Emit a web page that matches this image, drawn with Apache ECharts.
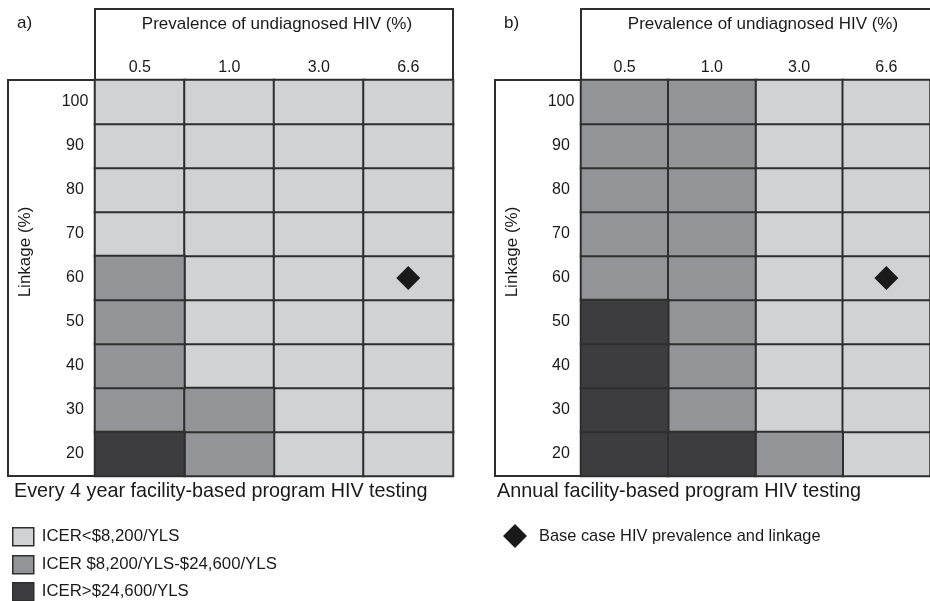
<!DOCTYPE html>
<html>
<head>
<meta charset="utf-8">
<script src="https://cdn.jsdelivr.net/npm/echarts@6/dist/echarts.min.js"></script>
<style>
html,body{margin:0;padding:0;background:#fff;}
#chart{width:930px;height:601px;}
</style>
</head>
<body>
<div id="chart"></div>
<script>
// ---- data ----
const prevalence = ['0.5', '1.0', '3.0', '6.6'];
const linkage = ['20', '30', '40', '50', '60', '70', '80', '90', '100'];
const levelNames = ['ICER<$8,200/YLS', 'ICER $8,200/YLS-$24,600/YLS', 'ICER>$24,600/YLS'];
// ICER level per cell: rows follow linkage (20 -> 100), columns follow prevalence
const levelsEvery4Year = [
  [2, 1, 0, 0], // 20
  [1, 1, 0, 0], // 30
  [1, 0, 0, 0], // 40
  [1, 0, 0, 0], // 50
  [1, 0, 0, 0], // 60
  [0, 0, 0, 0], // 70
  [0, 0, 0, 0], // 80
  [0, 0, 0, 0], // 90
  [0, 0, 0, 0]  // 100
];
const levelsAnnual = [
  [2, 2, 1, 0], // 20
  [2, 1, 0, 0], // 30
  [2, 1, 0, 0], // 40
  [2, 1, 0, 0], // 50
  [1, 1, 0, 0], // 60
  [1, 1, 0, 0], // 70
  [1, 1, 0, 0], // 80
  [1, 1, 0, 0], // 90
  [1, 1, 0, 0]  // 100
];
const baseCase = ['6.6', '60'];
const baseCaseName = 'Base case HIV prevalence and linkage';
const panelTitles = ['Every 4 year facility-based program HIV testing', 'Annual facility-based program HIV testing'];
const panelLetters = ['a)', 'b)'];
const xAxisTitle = 'Prevalence of undiagnosed HIV (%)';
const yAxisTitle = 'Linkage (%)';

// ---- style ----
const levelColors = ['#d1d2d4', '#939497', '#3d3d3f'];
const lineColor = '#2e2e2e';
const textColor = '#1a1a1a';
const FONT = '"Liberation Sans", Arial, Helvetica, sans-serif';

const panels = [
  {levels: levelsEvery4Year, gridLeft: 95, boxLeft: 8, subLeft: 14},
  {levels: levelsAnnual, gridLeft: 581, boxLeft: 495, subLeft: 497}
];
const gridTop = 80, cellW = 89.5, gridH = 396, headerTop = 9;

const grids = [], xAxes = [], yAxes = [], series = [], graphics = [];
panels.forEach((p, pi) => {
  const gw = cellW * prevalence.length;
  grids.push({left: p.gridLeft, top: gridTop, width: gw, height: gridH, show: false});
  xAxes.push({
    type: 'category', data: prevalence, gridIndex: pi, position: 'top',
    axisLine: {show: false}, axisTick: {show: false}, splitLine: {show: false},
    axisLabel: {margin: 4, fontSize: 16, color: textColor, fontFamily: FONT}
  });
  yAxes.push({
    type: 'category', data: linkage, gridIndex: pi,
    axisLine: {show: false}, axisTick: {show: false}, splitLine: {show: false},
    axisLabel: {margin: 20, align: 'center', fontSize: 16, color: textColor, fontFamily: FONT}
  });
  levelNames.forEach((name, li) => {
    const data = [];
    p.levels.forEach((row, ri) => row.forEach((lv, ci) => {
      if (lv === li) data.push([prevalence[ci], linkage[ri], lv]);
    }));
    series.push({
      type: 'heatmap', name: name, xAxisIndex: pi, yAxisIndex: pi, data: data,
      itemStyle: {color: levelColors[li], borderColor: lineColor, borderWidth: 2},
      emphasis: {disabled: true}, silent: true, animation: false
    });
  });
  series.push({
    type: 'scatter', name: baseCaseName, xAxisIndex: pi, yAxisIndex: pi,
    data: [baseCase], symbol: 'diamond', symbolSize: 24, z: 10,
    itemStyle: {color: '#1a1a1a', opacity: 1}, silent: true, animation: false
  });
  // header box and label box (frames)
  graphics.push({type: 'rect', shape: {x: p.gridLeft, y: headerTop, width: gw, height: gridTop - headerTop},
    style: {fill: 'none', stroke: lineColor, lineWidth: 2}, silent: true});
  graphics.push({type: 'rect', shape: {x: p.boxLeft, y: gridTop, width: p.gridLeft - p.boxLeft, height: gridH},
    style: {fill: 'none', stroke: lineColor, lineWidth: 2}, silent: true});
  graphics.push({type: 'text', style: {text: xAxisTitle, x: p.gridLeft + gw / 2 + 3, y: 24,
    textAlign: 'center', textVerticalAlign: 'middle', font: '17px ' + FONT, fill: textColor}, silent: true});
  graphics.push({type: 'text', rotation: Math.PI / 2, x: p.boxLeft + 17, y: 252,
    style: {text: yAxisTitle, x: 0, y: 0, textAlign: 'center', textVerticalAlign: 'middle',
      font: '17px ' + FONT, fill: textColor}, silent: true});
  graphics.push({type: 'text', style: {text: panelLetters[pi], x: p.boxLeft + 9, y: 23,
    textAlign: 'left', textVerticalAlign: 'middle', font: '17px ' + FONT, fill: textColor}, silent: true});
  graphics.push({type: 'text', style: {text: panelTitles[pi], x: p.subLeft, y: 492,
    textAlign: 'left', textVerticalAlign: 'middle', font: '19.8px ' + FONT, fill: textColor}, silent: true});
});

const levelLegendTops = [527, 555, 582];
const legends = levelNames.map((name, i) => ({
  data: [name], orient: 'vertical', left: 12, top: levelLegendTops[i], padding: 0,
  itemWidth: 21, itemHeight: 18, icon: 'rect', selectedMode: false,
  itemStyle: {borderColor: lineColor, borderWidth: 1.5},
  textStyle: {fontSize: 16.8, color: textColor, fontFamily: FONT, padding: [0, 0, 0, 3]}
}));
legends.push({
  data: [baseCaseName], orient: 'vertical', left: 503, top: 524, padding: 0,
  itemWidth: 24, itemHeight: 24, icon: 'diamond', selectedMode: false,
  itemStyle: {color: '#1a1a1a', opacity: 1},
  textStyle: {fontSize: 16.4, color: textColor, fontFamily: FONT, padding: [0, 0, 0, 7]}
});

const chart = echarts.init(document.getElementById('chart'), null, {renderer: 'canvas'});
chart.setOption({
  backgroundColor: '#ffffff',
  animation: false,
  grid: grids,
  xAxis: xAxes,
  yAxis: yAxes,
  legend: legends,
  series: series,
  graphic: graphics
});
</script>
</body>
</html>
